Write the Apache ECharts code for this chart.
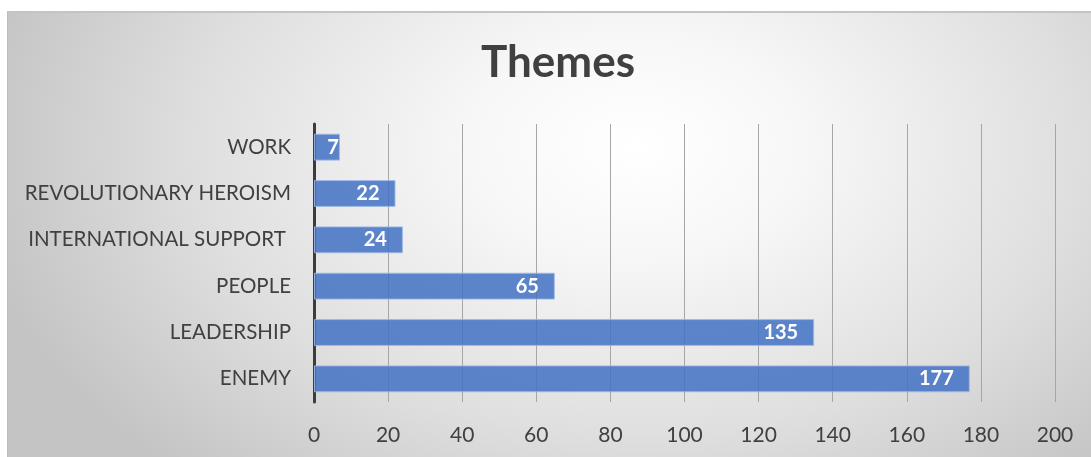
<!DOCTYPE html>
<html>
<head>
<meta charset="utf-8">
<script src="https://cdn.jsdelivr.net/npm/echarts@6/dist/echarts.min.js"></script>
<style>
  html, body { margin: 0; padding: 0; background: #ffffff; }
  #frame {
    position: absolute; left: 7px; top: 11px; width: 1084px; height: 446px;
    box-sizing: border-box;
    border-left: 1px solid #bdbdbd; border-top: 2px solid #c4c4c4;
    background: radial-gradient(ellipse 62% 100% at 58% 30%, #ffffff 0%, #f7f7f7 25%, #dfdfdf 65%, #c4c4c4 100%);
  }
  #chart { position: absolute; left: 0; top: 0; width: 1091px; height: 457px; }
</style>
</head>
<body>
<div id="frame"></div>
<div id="chart"></div>
<script>
// Theme counts, listed bottom to top as the category axis draws them
const categories = ['ENEMY', 'LEADERSHIP', 'PEOPLE', 'INTERNATIONAL SUPPORT ', 'REVOLUTIONARY HEROISM', 'WORK'];
const counts = [177, 135, 65, 24, 22, 7];
const axisMin = 0;
const axisMax = 200;
const axisStep = 20;

const textColor = '#404040';
const fontFamily = 'Lato, "Open Sans", sans-serif';

// Short bars keep their value label pressed against the bar end
const barData = counts.map(v => v < 10 ? { value: v, label: { distance: 1 } } : v);

const chart = echarts.init(document.getElementById('chart'), null, { renderer: 'canvas' });
chart.setOption({
  backgroundColor: 'transparent',
  animation: false,
  title: {
    text: 'Themes',
    left: 476,
    top: 36,
    textStyle: { color: textColor, fontSize: 44, fontWeight: 'bold', fontFamily: fontFamily }
  },
  grid: { left: 314, right: 36, top: 124, bottom: 55, containLabel: false },
  xAxis: {
    type: 'value',
    min: axisMin,
    max: axisMax,
    interval: axisStep,
    axisLine: { show: false },
    axisTick: { show: false },
    axisLabel: { color: textColor, fontSize: 21, fontFamily: fontFamily, margin: 23 },
    splitLine: { show: true, lineStyle: { color: '#a6a6a6', width: 1 } }
  },
  yAxis: {
    type: 'category',
    data: categories,
    axisLine: { show: true, lineStyle: { color: '#3c3c3c', width: 3 } },
    axisTick: { show: false },
    axisLabel: { color: textColor, fontSize: 20.5, fontFamily: fontFamily, margin: 23 }
  },
  series: [{
    type: 'bar',
    data: barData,
    barCategoryGap: '42%',
    itemStyle: { color: 'rgba(68,114,196,0.86)', borderColor: 'rgba(160,185,228,0.9)', borderWidth: 1 },
    label: {
      show: true,
      position: 'insideRight',
      distance: 16,
      color: '#ffffff',
      fontSize: 20,
      fontWeight: 'bold',
      fontFamily: fontFamily
    }
  }]
});
</script>
</body>
</html>
